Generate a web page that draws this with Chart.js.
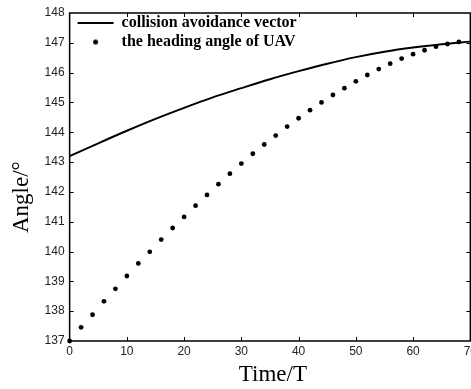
<!DOCTYPE html>
<html>
<head>
<meta charset="utf-8">
<script src="https://cdn.jsdelivr.net/npm/chart.js@4.4.1/dist/chart.umd.min.js"></script>
<style>
  html, body { margin: 0; padding: 0; background: #fff; overflow: hidden; }
  #chart { display: block; }
</style>
</head>
<body>
<canvas id="chart" width="480" height="389"></canvas>
<script>
// collision avoidance vector (solid line)
const lineTime = [0, 5, 10, 15, 20, 25, 30, 35, 40, 45, 50, 55, 60, 65, 70];
const avoidanceAngle = [143.20, 143.63, 144.05, 144.45, 144.82, 145.17, 145.48, 145.78,
                        146.05, 146.30, 146.52, 146.70, 146.84, 146.95, 147.04];

// heading angle of UAV (dots)
const dotTime = [0, 2, 4, 6, 8, 10, 12, 14, 16, 18, 20, 22, 24, 26, 28, 30, 32, 34,
                 36, 38, 40, 42, 44, 46, 48, 50, 52, 54, 56, 58, 60, 62, 64, 66, 68];
const headingAngle = [137.00, 137.46, 137.88, 138.33, 138.75, 139.18, 139.60, 139.99,
                      140.40, 140.79, 141.16, 141.54, 141.90, 142.26, 142.61, 142.95,
                      143.28, 143.59, 143.89, 144.19, 144.47, 144.74, 145.00, 145.25,
                      145.48, 145.71, 145.92, 146.12, 146.30, 146.47, 146.62, 146.75,
                      146.87, 146.96, 147.03];

const xTicks = [0, 10, 20, 30, 40, 50, 60, 70];
const yTicks = [137, 138, 139, 140, 141, 142, 143, 144, 145, 146, 147, 148];
const seriesNames = ["collision avoidance vector", "the heading angle of UAV"];

// small round marker for the legend (a plain 'circle' gets stretched by pointStyleWidth)
const dotIcon = document.createElement('canvas');
dotIcon.width = 7; dotIcon.height = 7;
(function() {
    const c = dotIcon.getContext('2d');
    c.fillStyle = '#000';
    c.beginPath(); c.arc(3.5, 3.5, 2.5, 0, Math.PI * 2); c.fill();
})();

// box frame with inward tick marks, legend moved into top-left corner
const frameTicks = {
    id: 'frameTicks',
    afterLayout(chart) {
        const a = chart.chartArea;
        chart.legend.left = a.left + 5;
        chart.legend.top = a.top - 1;
    },
    afterDraw(chart) {
        const { ctx, chartArea: a, scales: { x, y } } = chart;
        ctx.save();
        ctx.strokeStyle = '#000';
        ctx.lineWidth = 1.5;
        ctx.strokeRect(a.left, a.top, a.right - a.left, a.bottom - a.top);
        ctx.lineWidth = 1;
        ctx.beginPath();
        x.ticks.forEach(t => {
            if (t.value === x.min || t.value === x.max) return;
            const px = Math.round(x.getPixelForValue(t.value)) + 0.5;
            ctx.moveTo(px, a.bottom); ctx.lineTo(px, a.bottom - 4);
            ctx.moveTo(px, a.top); ctx.lineTo(px, a.top + 4);
        });
        y.ticks.forEach(t => {
            if (t.value === y.min || t.value === y.max) return;
            const py = Math.round(y.getPixelForValue(t.value)) + 0.5;
            ctx.moveTo(a.left, py); ctx.lineTo(a.left + 4, py);
            ctx.moveTo(a.right, py); ctx.lineTo(a.right - 4, py);
        });
        ctx.stroke();
        ctx.restore();
    }
};

const tickFont = { family: "'Liberation Sans', Arial, sans-serif", size: 12 };
const titleFont = { family: "'Liberation Serif', 'Times New Roman', serif", size: 23 };

new Chart(document.getElementById('chart').getContext('2d'), {
    type: 'scatter',
    data: {
        datasets: [{
            label: seriesNames[0],
            data: lineTime.map((t, i) => ({ x: t, y: avoidanceAngle[i] })),
            showLine: true,
            borderColor: '#000',
            backgroundColor: '#000',
            borderWidth: 2,
            pointRadius: 0,
            pointHoverRadius: 0,
            pointStyle: 'line',
            pointBorderWidth: 2,
            cubicInterpolationMode: 'monotone'
        }, {
            label: seriesNames[1],
            data: dotTime.map((t, i) => ({ x: t, y: headingAngle[i] })),
            showLine: false,
            clip: false,
            borderColor: '#000',
            backgroundColor: '#000',
            pointStyle: 'circle',
            pointRadius: 2.4,
            pointBorderWidth: 0
        }]
    },
    options: {
        responsive: false,
        animation: false,
        layout: { padding: { left: 6, top: 13, right: 0, bottom: 0 } },
        plugins: {
            tooltip: { enabled: false },
            legend: {
                position: 'chartArea',
                align: 'start',
                labels: {
                    usePointStyle: true,
                    pointStyleWidth: 36,
                    boxHeight: 3.4,
                    padding: 3,
                    color: '#000',
                    font: { family: "'Liberation Serif', 'Times New Roman', serif", size: 16, weight: 'bold' },
                    generateLabels(chart) {
                        const items = Chart.defaults.plugins.legend.labels.generateLabels(chart);
                        items[1].pointStyle = dotIcon;
                        return items;
                    }
                }
            }
        },
        scales: {
            x: {
                type: 'linear',
                min: 0,
                max: 70,
                afterBuildTicks: s => { s.ticks = xTicks.map(v => ({ value: v })); },
                grid: { display: false, drawTicks: false },
                border: { display: false },
                ticks: { color: '#222', font: tickFont, padding: 3, maxRotation: 0 },
                title: { display: true, text: '\u00a0Time/T', color: '#000', font: titleFont, padding: { top: 0, bottom: 0 } }
            },
            y: {
                type: 'linear',
                min: 137,
                max: 148,
                afterBuildTicks: s => { s.ticks = yTicks.map(v => ({ value: v })); },
                grid: { display: false, drawTicks: false },
                border: { display: false },
                ticks: { color: '#222', font: tickFont, padding: 5 },
                title: { display: true, text: 'Angle/°\u00a0\u00a0\u00a0\u00a0\u00a0\u00a0\u00a0', color: '#000', font: titleFont, padding: { top: 2, bottom: 4 } }
            }
        }
    },
    plugins: [frameTicks]
});
</script>
</body>
</html>
